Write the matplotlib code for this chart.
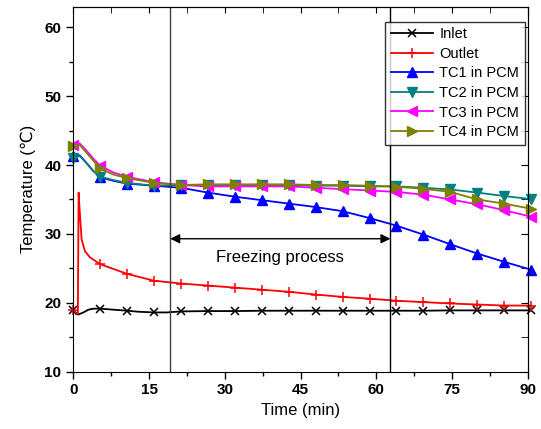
import numpy as np
import matplotlib
matplotlib.use('Agg')
import matplotlib.pyplot as plt
from matplotlib.ticker import MultipleLocator

plt.rcParams['font.family'] = ['Liberation Sans', 'DejaVu Sans']

# marker spacing of the logger plot (every 320 s)
mark_t = [0, 5.33, 10.67, 16, 21.33, 26.67, 32, 37.33, 42.67, 48, 53.33,
          58.67, 64, 69.33, 74.67, 80, 85.33, 90.67]

t_in = [0, 0.5, 1.0, 2, 3, 4, 5.33, 8, 10.67, 13, 16, 18.5, 21.33, 26.67, 32,
        37.33, 42.67, 48, 53.33, 58.67, 64, 69.33, 74.67, 80, 85.33, 90.67]
inlet = [19.0, 18.4, 18.3, 18.6, 19.0, 19.15, 19.15, 19.0, 18.85, 18.7, 18.6,
         18.6, 18.75, 18.8, 18.8, 18.85, 18.85, 18.85, 18.85, 18.85, 18.85,
         18.85, 18.9, 18.9, 18.9, 18.9]

t_out = [0, 0.5, 0.9, 1.05, 1.3, 1.65, 2.3, 3.3, 5.33, 10.67, 16, 21.33, 26.67,
         32, 37.33, 42.67, 48, 53.33, 58.67, 64, 69.33, 74.67, 80, 85.33, 90.67]
outlet = [19.0, 18.6, 18.4, 36.0, 33.0, 29.2, 27.5, 26.6, 25.6, 24.2, 23.2,
          22.8, 22.5, 22.2, 21.9, 21.6, 21.2, 20.85, 20.6, 20.3, 20.1, 19.9,
          19.75, 19.6, 19.6]

t_tc = [0, 1.3, 2.6, 4.0, 5.33, 8, 10.67, 16, 21.33, 26.67, 32, 37.33, 42.67,
        48, 53.33, 58.67, 64, 69.33, 74.67, 80, 85.33, 90.67]
tc1 = [41.3, 41.4, 40.3, 39.1, 38.2, 37.7, 37.3, 37.0, 36.7, 36.0, 35.4, 34.9,
       34.4, 33.9, 33.3, 32.3, 31.2, 29.9, 28.5, 27.15, 25.95, 24.8]
tc2 = [41.0, 41.3, 40.3, 39.1, 38.3, 37.8, 37.4, 37.0, 37.1, 37.1, 37.1, 37.1,
       37.1, 37.0, 37.0, 36.9, 36.9, 36.7, 36.45, 36.0, 35.5, 35.05]
tc3 = [42.9, 43.1, 42.1, 40.9, 39.9, 38.9, 38.3, 37.5, 37.1, 36.9, 36.9, 36.9,
       36.9, 36.7, 36.5, 36.3, 36.1, 35.7, 35.0, 34.3, 33.45, 32.5]
tc4 = [42.7, 42.9, 41.8, 40.6, 39.5, 38.6, 38.1, 37.4, 37.1, 37.2, 37.2, 37.2,
       37.2, 37.1, 37.1, 37.0, 36.85, 36.55, 36.1, 35.0, 34.4, 33.65]

freeze_start = 19.2
freeze_end = 62.8


def marks(t):
    return [i for i, v in enumerate(t) if np.isclose(v, mark_t, atol=0.01).any()]


fig = plt.figure(figsize=(5.41, 4.29), dpi=100)
ax = fig.add_axes([0.1355, 0.1336, 0.84, 0.851])

kw = dict(lw=1.3, clip_on=False)
ax.plot(t_in, inlet, color='black', marker='x', ms=6, mew=1.1,
        markevery=marks(t_in), label='Inlet', **kw)
ax.plot(t_out, outlet, color='#ff0000', marker='+', ms=7, mew=1.1,
        markevery=marks(t_out), label='Outlet', **kw)
ax.plot(t_tc, tc1, color='#0000ff', marker='^', ms=6.5, markevery=marks(t_tc),
        label='TC1 in PCM', **kw)
ax.plot(t_tc, tc2, color='#008080', marker='v', ms=6.5, markevery=marks(t_tc),
        label='TC2 in PCM', **kw)
ax.plot(t_tc, tc3, color='#ff00ff', marker='<', ms=6.5, markevery=marks(t_tc),
        label='TC3 in PCM', **kw)
ax.plot(t_tc, tc4, color='#808000', marker='>', ms=6.5, markevery=marks(t_tc),
        label='TC4 in PCM', **kw)

ax.axvline(freeze_start, color='#404040', lw=1.0)
ax.axvline(freeze_end, color='black', lw=1.0)
ax.annotate('', xy=(freeze_start, 29.3), xytext=(freeze_end, 29.3),
            arrowprops=dict(arrowstyle='<|-|>', color='black', lw=1.0,
                            mutation_scale=14, shrinkA=0, shrinkB=0))
ax.text((freeze_start + freeze_end) / 2, 26.6, 'Freezing process',
        ha='center', va='center', fontsize=12)

ax.set_xlim(0, 90)
ax.set_ylim(10, 63)
ax.xaxis.set_major_locator(MultipleLocator(15))
ax.xaxis.set_minor_locator(MultipleLocator(7.5))
ax.yaxis.set_major_locator(MultipleLocator(10))
ax.yaxis.set_minor_locator(MultipleLocator(5))
ax.tick_params(which='both', direction='out', width=1, labelsize=11)
ax.tick_params(which='major', length=5)
ax.tick_params(which='minor', length=3)
for lab in ax.get_xticklabels() + ax.get_yticklabels():
    lab.set_fontweight('bold')

# inner ticks on the top and right spines
top = ax.secondary_xaxis('top')
top.set_xticks(np.arange(0, 91, 15))
top.xaxis.set_minor_locator(MultipleLocator(7.5))
top.tick_params(which='both', direction='in', labeltop=False, length=4)
right = ax.secondary_yaxis('right')
right.set_yticks(np.arange(10, 61, 10))
right.yaxis.set_minor_locator(MultipleLocator(5))
right.tick_params(which='both', direction='in', labelright=False, length=5)

ax.set_xlabel('Time (min)', fontsize=12, labelpad=4)
ax.set_ylabel('Temperature (\u2103)', fontsize=12, labelpad=6)

leg = ax.legend(loc='upper right', bbox_to_anchor=(0.994, 0.959), fontsize=10.5,
                frameon=True, fancybox=False, edgecolor='black',
                borderpad=0.4, labelspacing=0.38, handlelength=2.9,
                handletextpad=0.4, borderaxespad=0)
leg.get_frame().set_linewidth(1.0)

fig.savefig('out.png', dpi=100)
